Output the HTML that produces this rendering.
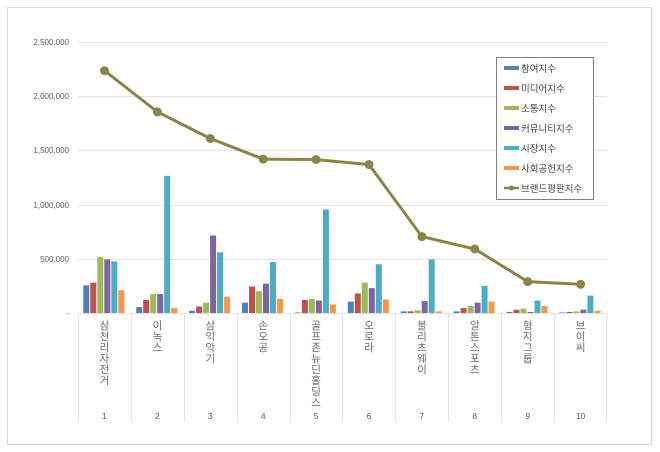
<!DOCTYPE html>
<html><head><meta charset="utf-8"><style>
html,body{margin:0;padding:0;background:#fff;}
svg{display:block;font-family:"Liberation Sans","Noto Sans CJK KR",sans-serif;}
</style></head><body>
<svg width="660" height="452" viewBox="0 0 660 452" xmlns="http://www.w3.org/2000/svg">
<rect x="7.5" y="7.5" width="644" height="437" fill="#fff" stroke="#d9d9d9"/>
<g stroke="#e3e3e3" stroke-width="1">
<line x1="78" y1="42.5" x2="607" y2="42.5"/>
<line x1="78" y1="96.5" x2="607" y2="96.5"/>
<line x1="78" y1="150.5" x2="607" y2="150.5"/>
<line x1="78" y1="205.5" x2="607" y2="205.5"/>
<line x1="78" y1="259.5" x2="607" y2="259.5"/>
<line x1="78" y1="313.5" x2="607" y2="313.5"/>
<line x1="78.5" y1="313" x2="78.5" y2="422"/>
<line x1="131.5" y1="313" x2="131.5" y2="422"/>
<line x1="184.5" y1="313" x2="184.5" y2="422"/>
<line x1="237.5" y1="313" x2="237.5" y2="422"/>
<line x1="290.5" y1="313" x2="290.5" y2="422"/>
<line x1="342.5" y1="313" x2="342.5" y2="422"/>
<line x1="395.5" y1="313" x2="395.5" y2="422"/>
<line x1="448.5" y1="313" x2="448.5" y2="422"/>
<line x1="501.5" y1="313" x2="501.5" y2="422"/>
<line x1="554.5" y1="313" x2="554.5" y2="422"/>
<line x1="606.5" y1="313" x2="606.5" y2="422"/>
</g>
<g font-size="8" fill="#595959" text-anchor="end">
<text x="69" y="45">2,500,000</text>
<text x="69" y="99">2,000,000</text>
<text x="69" y="153">1,500,000</text>
<text x="69" y="208">1,000,000</text>
<text x="69" y="262">500,000</text>
<text x="69" y="316">-</text>
</g>
<defs>
<style>.a{fill:#4F81BD}.b{fill:#C0504D}.c{fill:#9BBB59}.d{fill:#8064A2}.e{fill:#4BACC6}.f{fill:#F79646}</style>
</defs>
<g transform="translate(78,313) scale(1,-0.1084)">
<rect class="a" x="5.3" width="6" height="255"/><rect class="b" x="12.3" width="6" height="280"/><rect class="c" x="19.3" width="6" height="515"/><rect class="d" x="26.3" width="6" height="495"/><rect class="e" x="33.3" width="6" height="475"/><rect class="f" x="40.3" width="6" height="210"/>
</g>
<g transform="translate(130.9,313) scale(1,-0.1084)">
<rect class="a" x="5.3" width="6" height="55"/><rect class="b" x="12.3" width="6" height="120"/><rect class="c" x="19.3" width="6" height="175"/><rect class="d" x="26.3" width="6" height="175"/><rect class="e" x="33.3" width="6" height="1265"/><rect class="f" x="40.3" width="6" height="45"/>
</g>
<g transform="translate(183.8,313) scale(1,-0.1084)">
<rect class="a" x="5.3" width="6" height="20"/><rect class="b" x="12.3" width="6" height="60"/><rect class="c" x="19.3" width="6" height="95"/><rect class="d" x="26.3" width="6" height="715"/><rect class="e" x="33.3" width="6" height="560"/><rect class="f" x="40.3" width="6" height="150"/>
</g>
<g transform="translate(236.7,313) scale(1,-0.1084)">
<rect class="a" x="5.3" width="6" height="95"/><rect class="b" x="12.3" width="6" height="245"/><rect class="c" x="19.3" width="6" height="200"/><rect class="d" x="26.3" width="6" height="270"/><rect class="e" x="33.3" width="6" height="470"/><rect class="f" x="40.3" width="6" height="130"/>
</g>
<g transform="translate(289.6,313) scale(1,-0.1084)">
<rect class="a" x="5.3" width="6" height="5"/><rect class="b" x="12.3" width="6" height="120"/><rect class="c" x="19.3" width="6" height="130"/><rect class="d" x="26.3" width="6" height="115"/><rect class="e" x="33.3" width="6" height="955"/><rect class="f" x="40.3" width="6" height="80"/>
</g>
<g transform="translate(342.5,313) scale(1,-0.1084)">
<rect class="a" x="5.3" width="6" height="105"/><rect class="b" x="12.3" width="6" height="180"/><rect class="c" x="19.3" width="6" height="280"/><rect class="d" x="26.3" width="6" height="230"/><rect class="e" x="33.3" width="6" height="450"/><rect class="f" x="40.3" width="6" height="125"/>
</g>
<g transform="translate(395.4,313) scale(1,-0.1084)">
<rect class="a" x="5.3" width="6" height="15"/><rect class="b" x="12.3" width="6" height="15"/><rect class="c" x="19.3" width="6" height="25"/><rect class="d" x="26.3" width="6" height="110"/><rect class="e" x="33.3" width="6" height="495"/><rect class="f" x="40.3" width="6" height="15"/>
</g>
<g transform="translate(448.3,313) scale(1,-0.1084)">
<rect class="a" x="5.3" width="6" height="15"/><rect class="b" x="12.3" width="6" height="45"/><rect class="c" x="19.3" width="6" height="65"/><rect class="d" x="26.3" width="6" height="95"/><rect class="e" x="33.3" width="6" height="250"/><rect class="f" x="40.3" width="6" height="105"/>
</g>
<g transform="translate(501.2,313) scale(1,-0.1084)">
<rect class="a" x="5.3" width="6" height="10"/><rect class="b" x="12.3" width="6" height="30"/><rect class="c" x="19.3" width="6" height="40"/><rect class="d" x="26.3" width="6" height="10"/><rect class="e" x="33.3" width="6" height="115"/><rect class="f" x="40.3" width="6" height="65"/>
</g>
<g transform="translate(554.1,313) scale(1,-0.1084)">
<rect class="a" x="5.3" width="6" height="5"/><rect class="b" x="12.3" width="6" height="10"/><rect class="c" x="19.3" width="6" height="15"/><rect class="d" x="26.3" width="6" height="30"/><rect class="e" x="33.3" width="6" height="160"/><rect class="f" x="40.3" width="6" height="20"/>
</g>
<g font-size="10.5" fill="#6a6a6a" text-anchor="middle">
<text><tspan x="104.5" y="329">삼</tspan><tspan x="104.5" y="340">천</tspan><tspan x="104.5" y="351">리</tspan><tspan x="104.5" y="362">자</tspan><tspan x="104.5" y="373">전</tspan><tspan x="104.5" y="384">거</tspan></text>
<text><tspan x="157.4" y="329">이</tspan><tspan x="157.4" y="340">녹</tspan><tspan x="157.4" y="351">스</tspan></text>
<text><tspan x="210.3" y="329">삼</tspan><tspan x="210.3" y="340">익</tspan><tspan x="210.3" y="351">악</tspan><tspan x="210.3" y="362">기</tspan></text>
<text><tspan x="263.2" y="329">손</tspan><tspan x="263.2" y="340">오</tspan><tspan x="263.2" y="351">공</tspan></text>
<text><tspan x="316.1" y="329">골</tspan><tspan x="316.1" y="340">프</tspan><tspan x="316.1" y="351">존</tspan><tspan x="316.1" y="362">뉴</tspan><tspan x="316.1" y="373">딘</tspan><tspan x="316.1" y="384">홀</tspan><tspan x="316.1" y="395">딩</tspan><tspan x="316.1" y="406">스</tspan></text>
<text><tspan x="369" y="329">오</tspan><tspan x="369" y="340">로</tspan><tspan x="369" y="351">라</tspan></text>
<text><tspan x="421.9" y="329">블</tspan><tspan x="421.9" y="340">리</tspan><tspan x="421.9" y="351">츠</tspan><tspan x="421.9" y="362">웨</tspan><tspan x="421.9" y="373">이</tspan></text>
<text><tspan x="474.8" y="329">알</tspan><tspan x="474.8" y="340">톤</tspan><tspan x="474.8" y="351">스</tspan><tspan x="474.8" y="362">포</tspan><tspan x="474.8" y="373">츠</tspan></text>
<text><tspan x="527.7" y="329">형</tspan><tspan x="527.7" y="340">지</tspan><tspan x="527.7" y="351">그</tspan><tspan x="527.7" y="362">룹</tspan></text>
<text><tspan x="580.6" y="329">브</tspan><tspan x="580.6" y="340">이</tspan><tspan x="580.6" y="351">씨</tspan></text>
</g>
<g font-size="8.5" fill="#595959" text-anchor="middle">
<text x="104.5" y="419">1</text><text x="157.4" y="419">2</text><text x="210.3" y="419">3</text><text x="263.2" y="419">4</text><text x="316.1" y="419">5</text><text x="369" y="419">6</text><text x="421.9" y="419">7</text><text x="474.8" y="419">8</text><text x="527.7" y="419">9</text><text x="580.6" y="419">10</text>
</g>
<polyline points="104.5,70.7 157.4,111.9 210.3,138.5 263.2,159.1 316.1,159.6 369,164.5 421.9,236.6 474.8,249 527.7,281.6 580.6,284.3" fill="none" stroke="#8C8447" stroke-width="3"/>
<g fill="#8C8447">
<circle cx="104.5" cy="70.7" r="4.5"/><circle cx="157.4" cy="111.9" r="4.5"/><circle cx="210.3" cy="138.5" r="4.5"/><circle cx="263.2" cy="159.1" r="4.5"/><circle cx="316.1" cy="159.6" r="4.5"/><circle cx="369" cy="164.5" r="4.5"/><circle cx="421.9" cy="236.6" r="4.5"/><circle cx="474.8" cy="249" r="4.5"/><circle cx="527.7" cy="281.6" r="4.5"/><circle cx="580.6" cy="284.3" r="4.5"/>
</g>
<rect x="496.5" y="57.5" width="97" height="142" fill="#fff" stroke="#808080"/>
<g font-size="9.5" fill="#404040">
<rect x="504" y="66" width="15" height="4" fill="#4F81BD"/><text x="521" y="72">참여지수</text>
<rect x="504" y="86" width="15" height="4" fill="#C0504D"/><text x="521" y="92">미디어지수</text>
<rect x="504" y="106" width="15" height="4" fill="#9BBB59"/><text x="521" y="112">소통지수</text>
<rect x="504" y="126" width="15" height="4" fill="#8064A2"/><text x="521" y="132">커뮤니티지수</text>
<rect x="504" y="146" width="15" height="4" fill="#4BACC6"/><text x="521" y="152">시장지수</text>
<rect x="504" y="166" width="15" height="4" fill="#F79646"/><text x="521" y="172">사회공헌지수</text>
<line x1="504" y1="188" x2="519" y2="188" stroke="#8C8447" stroke-width="2.5"/><circle cx="511.5" cy="188" r="2.5" fill="#8C8447"/><text x="521" y="192">브랜드평판지수</text>
</g>
</svg>
</body></html>
